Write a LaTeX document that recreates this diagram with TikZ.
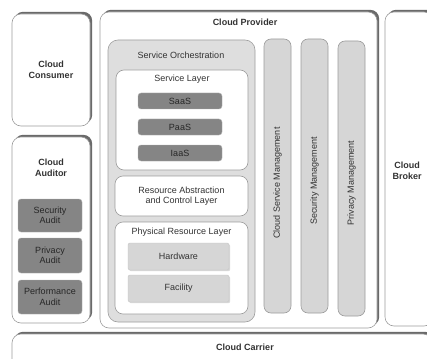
\documentclass[tikz,border=0pt]{standalone}
\usepackage{fontspec}
\setmainfont{Liberation Sans}
\usetikzlibrary{shadows}

\definecolor{txt}{HTML}{333333}
\definecolor{boxdark}{HTML}{858585}
\definecolor{boxlight}{HTML}{D6D6D6}
\definecolor{orch}{HTML}{DEDEDE}
\definecolor{edge}{HTML}{9C9C9C}
\definecolor{shade}{HTML}{6A6A6A}

\tikzset{
  every node/.style={text=txt, font=\fontsize{9}{10.5}\selectfont, inner sep=0pt, align=center},
  acteur/.style={draw=edge, fill=white, rounded corners=9pt, line width=0.6pt,
    drop shadow={shadow xshift=2.2pt, shadow yshift=2.2pt, opacity=1, fill=shade}},
  couche/.style={draw=edge, fill=white, rounded corners=8pt, line width=0.6pt},
  sombre/.style={draw=gray!60, fill=boxdark, text=black!85, rounded corners=3pt, line width=0.4pt},
  clair/.style={draw=gray!45, fill=boxlight, rounded corners=2pt, line width=0.4pt,
    drop shadow={shadow xshift=1.2pt, shadow yshift=-1.2pt, opacity=1, fill=gray!30}},
  colonne/.style={draw=edge, fill=boxlight, rounded corners=7pt, line width=0.6pt},
  titre/.style={font=\bfseries\fontsize{9}{10.5}\selectfont}
}

\begin{document}
\begin{tikzpicture}[x=1pt, y=-1pt]
  \useasboundingbox (0,0) rectangle (427,358);

  % Consommateur
  \node[acteur, minimum width=78pt, minimum height=112pt] (consumer) at (51,70) {};
  \node[titre] (consumerT) at (consumer.center) {Cloud\\Consumer};

  % Auditeur
  \node[acteur, minimum width=78pt, minimum height=186pt] (auditor) at (51,230) {};
  \node[titre] (auditorT) at (51,168) {Cloud\\Auditor};
  \node[sombre, minimum width=64pt, minimum height=33pt] (secaudit) at (50,215.5) {Security\\Audit};
  \node[sombre, minimum width=64pt, minimum height=35pt] (privaudit) at (50,255.5) {Privacy\\Audit};
  \node[sombre, minimum width=64pt, minimum height=34pt] (perfaudit) at (50,297) {Performance\\Audit};

  % Fournisseur
  \node[acteur, minimum width=277pt, minimum height=316pt] (provider) at (238.5,170) {};
  \node[titre] (providerT) at (245,22) {Cloud Provider};

  % Orchestration des services
  \node[couche, fill=orch, draw=gray!75, rounded corners=10pt, minimum width=147pt, minimum height=282pt] (orchestration) at (181.5,181) {};
  \node (orchestrationT) at (181,55) {Service Orchestration};

  % Couche de services
  \node[couche, minimum width=132pt, minimum height=100pt] (servicelayer) at (182,120) {};
  \node (servicelayerT) at (182,79) {Service Layer};
  \node[sombre, minimum width=84pt, minimum height=16pt] (saas) at (180,101) {SaaS};
  \node[sombre, minimum width=84pt, minimum height=16pt] (paas) at (180,127) {PaaS};
  \node[sombre, minimum width=84pt, minimum height=16pt] (iaas) at (180,153) {IaaS};

  % Abstraction des ressources
  \node[couche, minimum width=133pt, minimum height=40pt] (abstraction) at (181.5,196) {Resource Abstraction\\and Control Layer};

  % Ressources physiques
  \node[couche, minimum width=133pt, minimum height=92pt] (physical) at (181.5,268) {};
  \node (physicalT) at (181.5,232) {Physical Resource Layer};
  \node[clair, minimum width=101pt, minimum height=27pt] (hardware) at (178.5,256.5) {Hardware};
  \node[clair, minimum width=101pt, minimum height=27pt] (facility) at (178.5,288.5) {Facility};

  % Colonnes de gestion
  \node[colonne, minimum width=27pt, minimum height=274pt] (svcmgmt) at (277.5,176) {};
  \node[rotate=90] (svcmgmtT) at (277.5,183) {Cloud Service Management};
  \node[colonne, minimum width=27pt, minimum height=274pt] (secmgmt) at (314.5,176) {};
  \node[rotate=90] (secmgmtT) at (314.5,181) {Security Management};
  \node[colonne, minimum width=27pt, minimum height=275pt] (privmgmt) at (351.5,178.5) {};
  \node[rotate=90] (privmgmtT) at (351.5,183) {Privacy Management};

  % Courtier
  \node[acteur, minimum width=48pt, minimum height=314pt] (broker) at (409,169) {};
  \node[titre] (brokerT) at (407,171) {Cloud\\Broker};

  % Transporteur
  \node[acteur, minimum width=420pt, minimum height=34pt] (carrier) at (222,351) {};
  \node[titre] (carrierT) at (245,347) {Cloud Carrier};
\end{tikzpicture}
\end{document}
